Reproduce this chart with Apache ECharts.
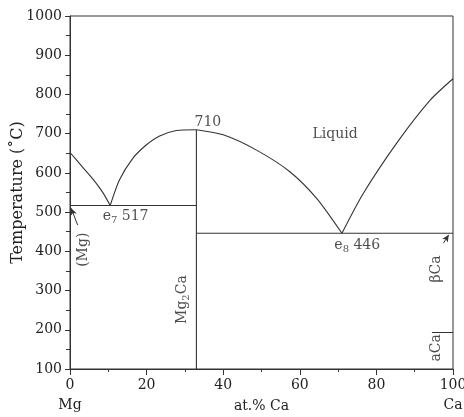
<!DOCTYPE html>
<html>
<head>
<meta charset="utf-8">
<script src="https://cdn.jsdelivr.net/npm/echarts@6/dist/echarts.min.js"></script>
<style>
  html, body { margin: 0; padding: 0; background: #fff; }
  #chart { width: 464px; height: 417px; }
</style>
</head>
<body>
<div id="chart"></div>
<script>
// liquidus / solvus lines, [at.% Ca, temperature C]
var mgLiquidus = [[0, 652], [3, 618], [6, 584], [8.5, 551], [10.5, 517]];
var mg2caLeft = [[10.5, 517], [12.9, 582], [16.4, 637], [19.9, 671], [23.4, 694], [27.8, 708], [33, 710]];
var mg2caRight = [[33, 710], [40, 697], [48.7, 658], [57.4, 603], [64.4, 535], [71, 446]];
var caLiquidus = [[71, 446], [76.6, 548], [85.3, 676], [94.1, 786], [100, 840]];
var eutectic7 = [[0, 517], [33, 517]];
var eutectic8 = [[33, 446], [100, 446]];
var mg2caLine = [[33, 710], [33, 100]];
var caTransition = [[94.5, 193], [100, 193]];
// arrows: [from, to]
var arrows = [
  [[2.0, 467], [0.3, 510]],
  [[97.5, 421], [98.9, 442]]
];
// text labels: [x, T, text, rotate]
var labels = [
  [36.0, 730, '710', 0],
  [69.2, 697, 'Liquid', 0],
  [14.5, 490, '{t|e}{s|7}{t| 517}', 0],
  [75.0, 414, '{t|e}{s|8}{t| 446}', 0],
  [3.4, 404, '{t|(Mg)}', 90],
  [29.4, 277, '{t|Mg}{s|2}{t|Ca}', 90],
  [95.6, 355, '{t|βCa}', 90],
  [95.6, 154, '{t|aCa}', 90]
];
var xTicks = [0, 20, 40, 60, 80, 100];
var yTicks = [100, 200, 300, 400, 500, 600, 700, 800, 900, 1000];

var FONT = 'DejaVu Serif';
var lineCol = '#333';
var textCol = '#222';

function curve(data, smooth) {
  return {
    type: 'line', data: data, showSymbol: false, smooth: smooth || false,
    lineStyle: { color: lineCol, width: 1.1 }, silent: true, animation: false
  };
}

var series = [
  curve(mgLiquidus, 0.25),
  curve(mg2caLeft, 0.25),
  curve(mg2caRight, 0.25),
  curve(caLiquidus, 0.25),
  curve(eutectic7),
  curve(eutectic8),
  curve(mg2caLine),
  curve(caTransition)
];

series.push({
  type: 'line', data: [], silent: true, animation: false,
  markLine: {
    silent: true, animation: false,
    symbol: ['none', 'arrow'], symbolSize: [5, 7],
    lineStyle: { color: lineCol, width: 1, type: 'solid' },
    label: { show: false },
    data: arrows.map(function (a) {
      return [{ coord: a[0] }, { coord: a[1] }];
    })
  }
});

var richStyle = {
  t: { fontFamily: FONT, fontSize: 14, color: textCol },
  s: { fontFamily: FONT, fontSize: 10, color: textCol, padding: [8, 0, 0, 0] }
};

series.push({
  type: 'scatter', symbolSize: 0, silent: true, animation: false,
  data: labels.map(function (l) {
    return {
      value: [l[0], l[1]],
      label: {
        show: true, position: 'inside', formatter: l[2], rotate: l[3],
        fontFamily: FONT, fontSize: 14, color: textCol, rich: richStyle
      }
    };
  })
});

var chart = echarts.init(document.getElementById('chart'), null, { renderer: 'canvas' });
chart.setOption({
  animation: false,
  backgroundColor: '#fff',
  grid: {
    left: 70, right: 11, top: 16, bottom: 48, containLabel: false, outerBoundsMode: 'none',
    show: true, borderColor: lineCol, borderWidth: 1
  },
  xAxis: {
    type: 'value', min: xTicks[0], max: xTicks[xTicks.length - 1], interval: 20,
    name: 'at.% Ca', nameLocation: 'middle', nameGap: 30, nameMoveOverlap: false,
    nameTextStyle: { fontFamily: FONT, fontSize: 14, color: textCol },
    axisLine: { lineStyle: { color: lineCol } },
    axisTick: { length: 6, lineStyle: { color: lineCol } },
    minorTick: { show: true, splitNumber: 2, length: 3, lineStyle: { color: lineCol } },
    splitLine: { show: false },
    axisLabel: {
      margin: 6, fontFamily: FONT, fontSize: 14, color: textCol, lineHeight: 20,
      formatter: function (v) {
        if (v === 0) return '0\nMg';
        if (v === 100) return '100\nCa';
        return String(v);
      }
    }
  },
  yAxis: {
    type: 'value', min: yTicks[0], max: yTicks[yTicks.length - 1], interval: 100,
    name: 'Temperature (˚C)', nameLocation: 'middle', nameGap: 44, nameRotate: 90,
    nameMoveOverlap: false,
    nameTextStyle: { fontFamily: FONT, fontSize: 16, color: textCol },
    axisLine: { show: true, lineStyle: { color: lineCol } },
    axisTick: { show: true, length: 5, lineStyle: { color: lineCol } },
    minorTick: { show: true, splitNumber: 2, length: 4, lineStyle: { color: lineCol } },
    splitLine: { show: false },
    axisLabel: {
      margin: 8, fontFamily: FONT, fontSize: 14, color: textCol,
      formatter: function (v) { return String(v); }
    }
  },
  series: series
});
</script>
</body>
</html>
